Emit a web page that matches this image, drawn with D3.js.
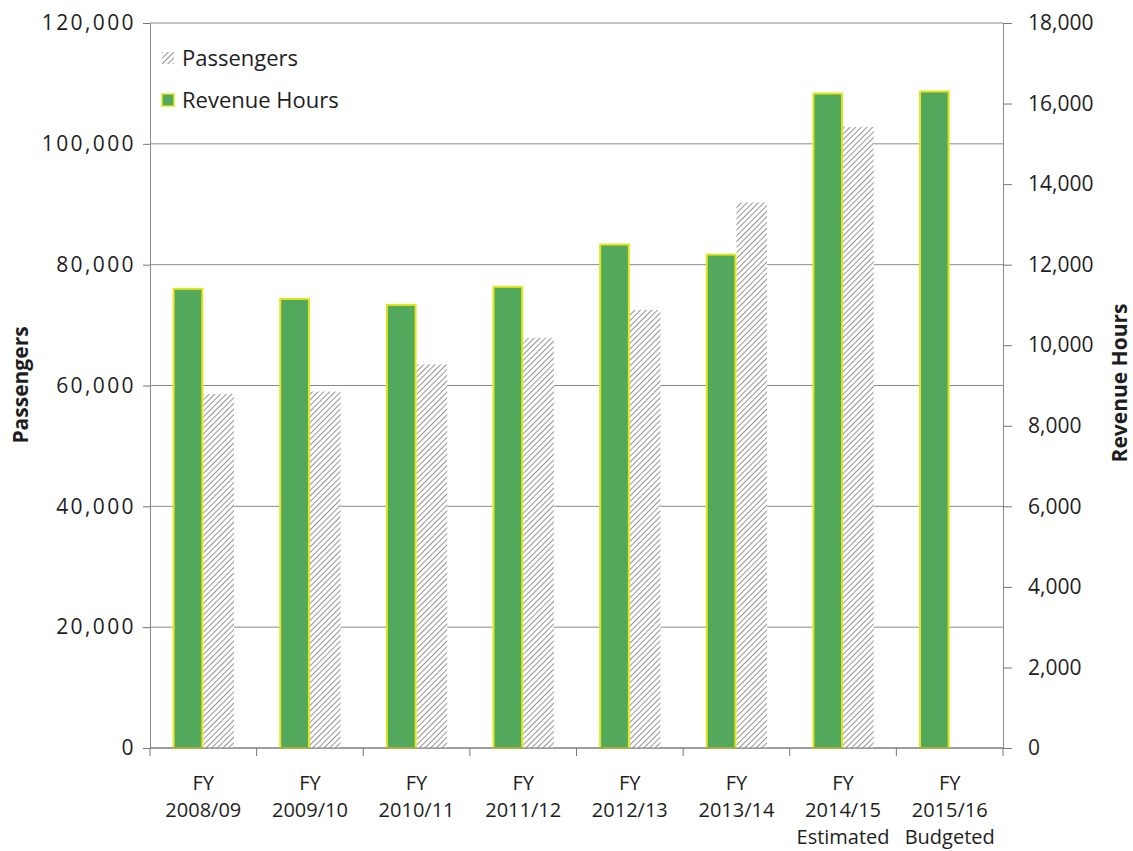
<!DOCTYPE html>
<html>
<head>
<meta charset="utf-8">
<script src="https://cdn.jsdelivr.net/npm/d3@7"></script>
<style>
  html, body { margin: 0; padding: 0; background: #fff; }
  svg { display: block; }
  text { font-family: "Open Sans", "Noto Sans", sans-serif; fill: #1e1e1e; }
</style>
</head>
<body>
<svg id="chart" width="1133" height="851"></svg>
<script>
// Fiscal years, one group per year
const fyPrefix = ["FY", "FY", "FY", "FY", "FY", "FY", "FY", "FY"];
const fyYears = ["2008/09", "2009/10", "2010/11", "2011/12", "2012/13", "2013/14", "2014/15", "2015/16"];
const fyNotes = ["", "", "", "", "", "", "Estimated", "Budgeted"];

// Series values
const revenueHours = [11400, 11150, 11000, 11450, 12500, 12250, 16250, 16300];
const passengers = [58600, 59000, 63500, 67900, 72500, 90300, 102800, null];

// Axis ticks
const passengerTicks = [0, 20000, 40000, 60000, 80000, 100000, 120000];
const hourTicks = [0, 2000, 4000, 6000, 8000, 10000, 12000, 14000, 16000, 18000];

const seriesNames = ["Revenue Hours", "Passengers"];

const svg = d3.select("#chart");
const m = { left: 150, right: 1003, top: 23, bottom: 748 };

const x0 = d3.scaleBand()
  .domain(fyYears)
  .range([m.left, m.right])
  .paddingInner(0.425)
  .paddingOuter(0.2125);

const x1 = d3.scaleBand()
  .domain(seriesNames)
  .range([0, x0.bandwidth()]);

const yLeft = d3.scaleLinear().domain([0, 120000]).range([m.bottom, m.top]);
const yRight = d3.scaleLinear().domain([0, 18000]).range([m.bottom, m.top]);

// Diagonal hatch for the passenger bars
const defs = svg.append("defs");
const hatch = defs.append("pattern")
  .attr("id", "hatch")
  .attr("patternUnits", "userSpaceOnUse")
  .attr("width", 4).attr("height", 4)
  .attr("patternTransform", "rotate(45)");
hatch.append("rect").attr("width", 4).attr("height", 4).attr("fill", "#fff");
hatch.append("line")
  .attr("x1", 0).attr("y1", 0).attr("x2", 0).attr("y2", 4)
  .attr("stroke", "#5a5a5a").attr("stroke-width", 1.3);

const fmt = d3.format(",");

// Horizontal gridlines at the passenger ticks
svg.append("g")
  .selectAll("line")
  .data(passengerTicks)
  .join("line")
  .attr("x1", m.left).attr("x2", m.right)
  .attr("y1", d => yLeft(d)).attr("y2", d => yLeft(d))
  .attr("stroke", "#8a8a8a").attr("stroke-width", 1);

// Bars
const groups = svg.append("g")
  .selectAll("g")
  .data(fyYears.map((yr, i) => ({ yr, hours: revenueHours[i], pax: passengers[i] })))
  .join("g")
  .attr("transform", d => `translate(${x0(d.yr)},0)`);

groups.filter(d => d.pax != null)
  .append("rect")
  .attr("x", x1("Passengers"))
  .attr("width", x1.bandwidth())
  .attr("y", d => yLeft(d.pax))
  .attr("height", d => yLeft(0) - yLeft(d.pax))
  .attr("fill", "url(#hatch)");

groups.append("rect")
  .attr("x", x1("Revenue Hours") + 1)
  .attr("width", x1.bandwidth() - 2)
  .attr("y", d => yRight(d.hours))
  .attr("height", d => yRight(0) - yRight(d.hours))
  .attr("fill", "#52a95c")
  .attr("stroke", "#e4e41a")
  .attr("stroke-width", 2);

// Left axis (Passengers)
const leftAxis = svg.append("g")
  .attr("transform", `translate(${m.left},0)`)
  .call(d3.axisLeft(yLeft).tickValues(passengerTicks).tickFormat(fmt).tickSize(7).tickPadding(7));
leftAxis.select(".domain").attr("stroke", "#8a8a8a");
leftAxis.selectAll(".tick line").attr("stroke", "#777");
leftAxis.selectAll("text")
  .attr("font-size", 21).attr("letter-spacing", 2.4).attr("fill", "#1e1e1e")
  .style("font-family", "'Open Sans', sans-serif");

// Right axis (Revenue Hours)
const rightAxis = svg.append("g")
  .attr("transform", `translate(${m.right},0)`)
  .call(d3.axisRight(yRight).tickValues(hourTicks).tickFormat(fmt).tickSize(9).tickPadding(16));
rightAxis.select(".domain").attr("stroke", "#8a8a8a");
rightAxis.selectAll(".tick line").attr("stroke", "#777");
rightAxis.selectAll("text")
  .attr("font-size", 21).attr("fill", "#1e1e1e")
  .style("font-family", "'Open Sans', sans-serif");

// Bottom axis: baseline with ticks between the year groups
const bottom = svg.append("g");
bottom.append("line")
  .attr("x1", m.left).attr("x2", m.right)
  .attr("y1", m.bottom).attr("y2", m.bottom)
  .attr("stroke", "#777");
const boundaries = fyYears.map(yr => x0(yr) - x0.step() * x0.paddingInner() / 2)
  .concat([m.right]);
bottom.selectAll("line.tk")
  .data(boundaries)
  .join("line")
  .attr("class", "tk")
  .attr("x1", d => d).attr("x2", d => d)
  .attr("y1", m.bottom).attr("y2", m.bottom + 8)
  .attr("stroke", "#777");

const labelG = bottom.selectAll("text.cat")
  .data(fyYears.map((yr, i) => ({ yr, lines: [fyPrefix[i], yr, fyNotes[i]] })))
  .join("text")
  .attr("class", "cat")
  .attr("text-anchor", "middle")
  .attr("font-size", 20)
  .attr("x", d => x0(d.yr) + x0.bandwidth() / 2);
labelG.selectAll("tspan")
  .data(d => d.lines.filter(s => s !== "").map(s => ({ s, x: x0(d.yr) + x0.bandwidth() / 2 })))
  .join("tspan")
  .attr("x", d => d.x)
  .attr("y", (d, i) => 790 + i * 27)
  .text(d => d.s);

// Axis titles
svg.append("text")
  .attr("transform", "translate(28,385) rotate(-90)")
  .attr("text-anchor", "middle")
  .attr("font-size", 21).attr("font-weight", 700)
  .text("Passengers");
svg.append("text")
  .attr("transform", "translate(1127,383) rotate(-90)")
  .attr("text-anchor", "middle")
  .attr("font-size", 21).attr("font-weight", 700)
  .text("Revenue Hours");

// Legend
const legendItems = [
  { name: "Passengers", fill: "url(#hatch)", stroke: "none" },
  { name: "Revenue Hours", fill: "#52a95c", stroke: "#e4e41a" }
];
const legend = svg.append("g").attr("transform", "translate(162,52)");
const li = legend.selectAll("g")
  .data(legendItems)
  .join("g")
  .attr("transform", (d, i) => `translate(0,${i * 42})`);
li.append("rect")
  .attr("width", 12).attr("height", 12)
  .attr("fill", d => d.fill)
  .attr("stroke", d => d.stroke)
  .attr("stroke-width", 1.5);
li.append("text")
  .attr("x", 20).attr("y", 14)
  .attr("font-size", 22)
  .text(d => d.name);
</script>
</body>
</html>
